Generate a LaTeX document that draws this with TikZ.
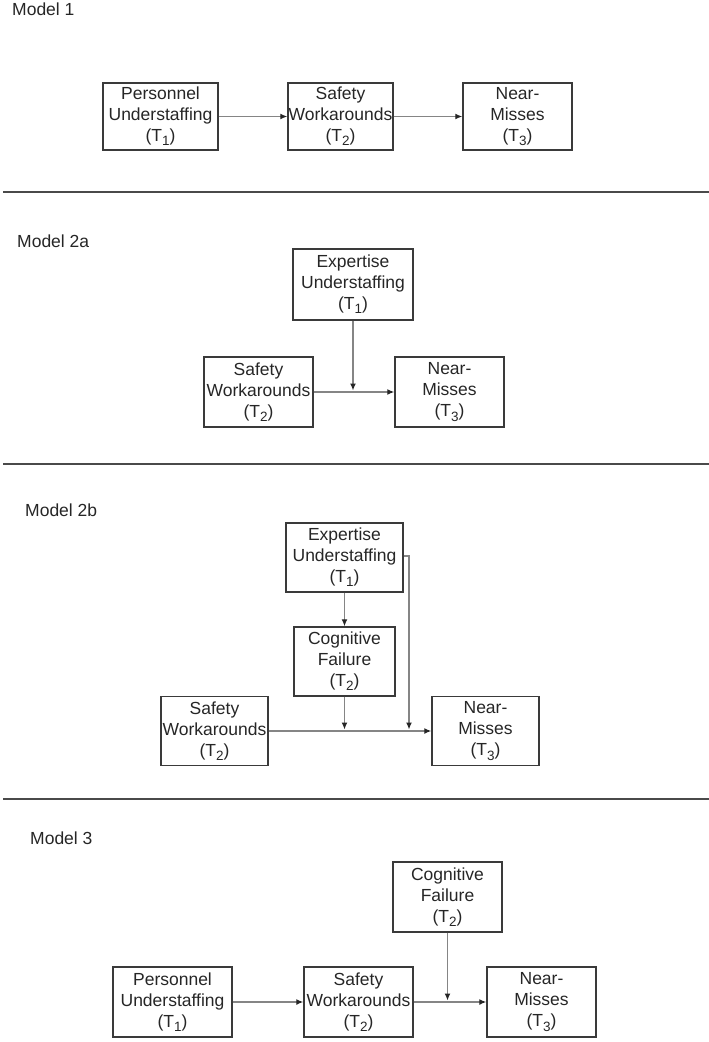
\documentclass[tikz,border=0pt]{standalone}
\usepackage{fontspec}
\setmainfont{Liberation Sans}
\usetikzlibrary{arrows.meta}
\definecolor{boxline}{HTML}{3A3A3A}
\definecolor{arrline}{HTML}{858585}
\definecolor{sepline}{HTML}{4A4A4A}
\newcommand{\tsub}[1]{\raisebox{-0.45ex}{\fontsize{13.5}{13.5}\selectfont #1}}
\begin{document}
\begin{tikzpicture}[x=1pt,y=-1pt,
  every node/.style={font=\fontsize{17.5}{21}\selectfont, text=black!85},
  vbox/.style={draw=boxline, line width=1.4pt, inner sep=0pt, align=center, anchor=center},
  arr/.style={draw=arrline, line width=1.3pt, -{Latex[length=7pt,width=6pt,color=black!85]}},
  sep/.style={draw=sepline, line width=1.6pt},
  mlabel/.style={anchor=base west, inner sep=0pt}]
\useasboundingbox (0,0) rectangle (709,1042);

% separators
\draw[sep] (3,192) -- (709,192);
\draw[sep] (3,464) -- (709,464);
\draw[sep] (3,799) -- (709,799);

% labels
\node[mlabel] (l1) at (12,15) {Model 1};
\node[mlabel] (l2a) at (17,247) {Model 2a};
\node[mlabel] (l2b) at (25,516) {Model 2b};
\node[mlabel] (l3) at (30,844) {Model 3};

% Model 1
\node[vbox, minimum width=115pt, minimum height=67pt] (m1p) at (160.5,116.5) {Personnel\\Understaffing\\(T\tsub{1})};
\node[vbox, minimum width=105pt, minimum height=67pt] (m1s) at (340.5,116.5) {Safety\\Workarounds\\(T\tsub{2})};
\node[vbox, minimum width=109pt, minimum height=67pt] (m1n) at (517.5,116.5) {Near-\\Misses\\(T\tsub{3})};
\draw[arr] (m1p) -- (m1s);
\draw[arr] (m1s) -- (m1n);

% Model 2a
\node[vbox, minimum width=120pt, minimum height=71pt] (m2ae) at (353,284.5) {Expertise\\Understaffing\\(T\tsub{1})};
\node[vbox, minimum width=109pt, minimum height=70pt] (m2as) at (258.5,392) {Safety\\Workarounds\\(T\tsub{2})};
\node[vbox, minimum width=109pt, minimum height=70pt] (m2an) at (449.5,392) {Near-\\Misses\\(T\tsub{3})};
\coordinate (m2aj) at (353,390.5);
\draw[arr] (m2as) -- (m2an);
\draw[arr] (m2ae.south) -- (m2aj);

% Model 2b
\node[vbox, minimum width=117pt, minimum height=69pt] (m2be) at (344.5,557.5) {Expertise\\Understaffing\\(T\tsub{1})};
\node[vbox, minimum width=101pt, minimum height=69pt] (m2bc) at (344.5,661.5) {Cognitive\\Failure\\(T\tsub{2})};
\node[vbox, minimum width=107pt, minimum height=69pt] (m2bs) at (214.5,731) {Safety\\Workarounds\\(T\tsub{2})};
\node[vbox, minimum width=107pt, minimum height=69pt] (m2bn) at (485.5,731) {Near-\\Misses\\(T\tsub{3})};
\coordinate (m2bj1) at (344.5,729.5);
\coordinate (m2bj2) at (409,729.5);
\draw[arr] (m2bs) -- (m2bn);
\draw[arr] (m2be.south) -- (m2bc.north);
\draw[arr] (m2bc.south) -- (m2bj1);
\draw[arr] ([yshift=1.5pt]m2be.east) -| (m2bj2);

% Model 3
\node[vbox, minimum width=109pt, minimum height=70pt] (m3c) at (447.5,897) {Cognitive\\Failure\\(T\tsub{2})};
\node[vbox, minimum width=119pt, minimum height=70pt] (m3p) at (172.5,1002) {Personnel\\Understaffing\\(T\tsub{1})};
\node[vbox, minimum width=109pt, minimum height=70pt] (m3s) at (358.5,1002) {Safety\\Workarounds\\(T\tsub{2})};
\node[vbox, minimum width=109pt, minimum height=70pt] (m3n) at (541.5,1002) {Near-\\Misses\\(T\tsub{3})};
\coordinate (m3j) at (447.5,1000.5);
\draw[arr] (m3p) -- (m3s);
\draw[arr] (m3s) -- (m3n);
\draw[arr] (m3c.south) -- (m3j);
\end{tikzpicture}
\end{document}
